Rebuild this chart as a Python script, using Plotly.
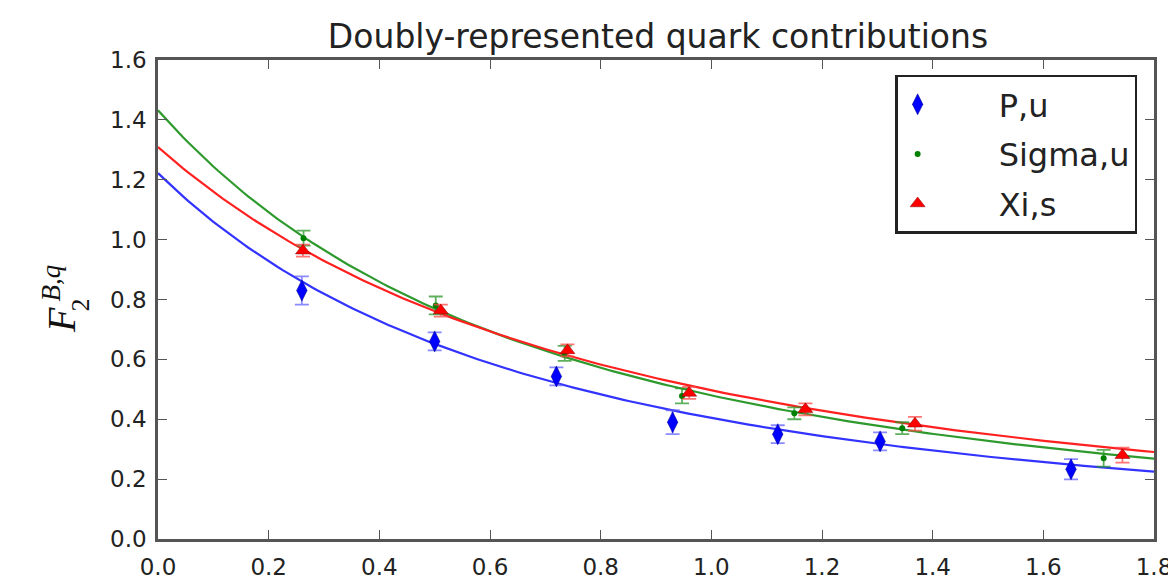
import numpy as np
import plotly.graph_objects as go

# Data
p_x = [0.26, 0.50, 0.72, 0.93, 1.12, 1.305, 1.65]
p_y = [0.83, 0.66, 0.543, 0.39, 0.35, 0.326, 0.233]
p_err = [0.047, 0.03, 0.03, 0.04, 0.03, 0.03, 0.034]

s_x = [0.263, 0.502, 0.735, 0.947, 1.15, 1.345, 1.709]
s_y = [1.005, 0.78, 0.62, 0.478, 0.42, 0.37, 0.27]
s_err = [0.025, 0.03, 0.025, 0.025, 0.02, 0.02, 0.028]

x_x = [0.262, 0.511, 0.74, 0.96, 1.17, 1.368, 1.743]
x_y = [0.963, 0.763, 0.63, 0.488, 0.433, 0.385, 0.28]
x_err = [0.02, 0.02, 0.02, 0.02, 0.02, 0.023, 0.025]

# Dipole fit parameters (F0, M^2) for the curves
fit_p = (1.222, 1.354)
fit_s = (1.432, 1.374)
fit_x = (1.309, 1.604)

xs = np.linspace(0, 1.8, 200)

def dipole(params, q):
    f0, m2 = params
    return f0 / (1 + q / m2) ** 2

fig = go.Figure()

for params, col in [(fit_p, "#3333ff"), (fit_s, "#2e9a2e"), (fit_x, "#ff2020")]:
    fig.add_trace(go.Scatter(x=xs, y=dipole(params, xs), mode="lines",
                             line=dict(color=col, width=2.2), showlegend=False,
                             hoverinfo="skip"))

pad = "\u00a0" * 6
fig.add_trace(go.Scatter(x=p_x, y=p_y, mode="markers", name=pad + "P,u", legendgroup="a",
                         marker=dict(symbol="diamond-tall", size=15, color="#0000ff",
                                     line=dict(width=0.5, color="#000080")),
                         error_y=dict(type="data", array=p_err, color="rgba(90,90,255,0.7)",
                                      thickness=1.8, width=7)))
fig.add_trace(go.Scatter(x=s_x, y=s_y, mode="markers", name=pad + "Sigma,u", legendgroup="b",
                         marker=dict(symbol="circle", size=6, color="#008000"),
                         error_y=dict(type="data", array=s_err, color="rgba(40,150,40,0.75)",
                                      thickness=1.8, width=7)))
fig.add_trace(go.Scatter(x=x_x, y=x_y, mode="markers", name=pad + "Xi,s", legendgroup="c",
                         marker=dict(symbol="triangle-up", size=13, color="#ff0000",
                                     line=dict(width=0.5, color="#800000")),
                         error_y=dict(type="data", array=x_err, color="rgba(255,70,70,0.75)",
                                      thickness=1.8, width=7)))

axis_common = dict(showgrid=False, zeroline=False, showline=True, linecolor="#555",
                   linewidth=2.5, mirror="ticks", ticks="inside", ticklen=9,
                   tickcolor="#555", tickwidth=1.2,
                   tickfont=dict(family="DejaVu Sans", size=23, color="#222"))

L, R, T, B = 150, 22, 52, 37
pw = 1176 - L - R
ph = 584 - T - B

fig.update_layout(
    width=1176, height=584,
    margin=dict(l=L, r=R, t=T, b=B),
    paper_bgcolor="white", plot_bgcolor="white",
    title=dict(text="Doubly-represented quark contributions", x=650 / 1176, xanchor="center",
               y=1 - 28 / 584, yanchor="middle",
               font=dict(family="DejaVu Sans", size=33, color="#222")),
    xaxis=dict(range=[0, 1.8], dtick=0.2, tickformat=".1f", ticklabelstandoff=6, **axis_common),
    yaxis=dict(range=[0, 1.6], dtick=0.2, tickformat=".1f", ticklabelstandoff=4, **axis_common),
    legend=dict(x=(1137 - L) / pw, y=(584 - B - 67) / ph, xanchor="right", yanchor="top",
                bordercolor="#222", borderwidth=2.5, bgcolor="white",
                font=dict(family="DejaVu Sans", size=32, color="#222"),
                itemsizing="trace", tracegroupgap=5),
)

# y-axis label F_2^{B,q} with stacked sub/superscript
def ann(text, px, py, size):
    fig.add_annotation(text=text, xref="paper", yref="paper",
                       x=(px - L) / pw, y=(584 - B - py) / ph,
                       showarrow=False, textangle=-90, xanchor="center", yanchor="middle",
                       font=dict(family="Liberation Serif", size=size, color="#111"))

ann("<i>F</i>", 53, 321, 40)
ann("2", 72, 305, 26)
ann("<i>B,q</i>", 42, 282, 27)

fig.write_html("out.html")
